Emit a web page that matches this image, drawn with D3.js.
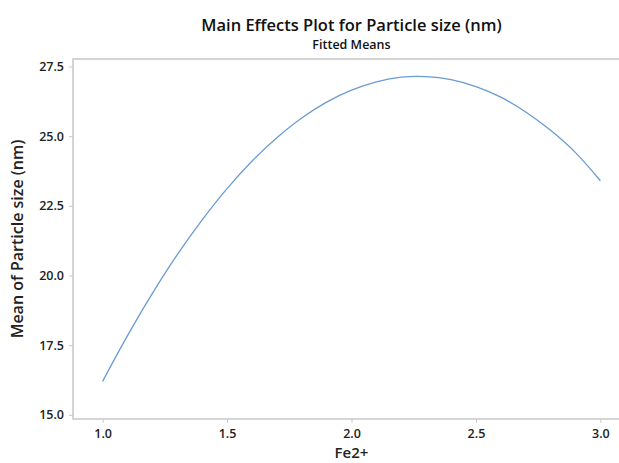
<!DOCTYPE html>
<html>
<head>
<meta charset="utf-8">
<script src="https://cdn.jsdelivr.net/npm/d3@7"></script>
<style>
  body { margin: 0; background: #fff; }
  svg { display: block; font-family: "Open Sans", "Noto Sans", sans-serif; }
</style>
</head>
<body>
<svg id="chart"></svg>
<script>
// Fitted means
const fe2Levels = [1.0, 1.1, 1.2, 1.3, 1.4, 1.5, 1.6, 1.7, 1.8, 1.9, 2.0,
                   2.1, 2.2, 2.3, 2.4, 2.5, 2.6, 2.7, 2.8, 2.9, 3.0];
const meanSize = [16.2, 17.84, 19.36, 20.75, 22.0, 23.12, 24.1, 24.94, 25.65, 26.22, 26.65,
                  26.95, 27.12, 27.14, 27.03, 26.78, 26.4, 25.87, 25.21, 24.41, 23.4];
const xTicks = [1.0, 1.5, 2.0, 2.5, 3.0];
const yTicks = [15.0, 17.5, 20.0, 22.5, 25.0, 27.5];

const width = 619;
const height = 463;
const margin = { top: 59, right: -11, bottom: 44, left: 73 };
const innerW = width - margin.left - margin.right;
const innerH = height - margin.top - margin.bottom;

const svg = d3.select('#chart')
    .attr('width', width)
    .attr('height', height);

const g = svg.append('g')
    .attr('transform', `translate(${margin.left}, ${margin.top})`);

const x = d3.scaleLinear()
    .domain([0.881, 3.119])
    .range([0, innerW]);

const y = d3.scaleLinear()
    .domain([14.85, 27.77])
    .range([innerH, 0]);

// plot frame
g.append('rect')
    .attr('x', 0)
    .attr('y', 0)
    .attr('width', innerW)
    .attr('height', innerH)
    .attr('fill', 'none')
    .attr('stroke', '#c8c8c8')
    .attr('stroke-width', 1.5);

const xAxis = g.append('g')
    .attr('transform', `translate(0, ${innerH})`)
    .call(d3.axisBottom(x).tickValues(xTicks).tickFormat(d3.format('.1f')).tickSize(4).tickPadding(6));

const yAxis = g.append('g')
    .call(d3.axisLeft(y).tickValues(yTicks).tickFormat(d3.format('.1f')).tickSize(4).tickPadding(5));

[xAxis, yAxis].forEach(ax => {
  ax.select('.domain').remove();
  ax.selectAll('line').attr('stroke', '#c8c8c8');
  ax.selectAll('text')
      .attr('fill', '#222')
      .attr('font-size', '12.5px')
      .attr('font-weight', 600)
      .attr('font-family', '"Open Sans", sans-serif');
});

const line = d3.line()
    .x((d, i) => x(fe2Levels[i]))
    .y(d => y(d))
    .curve(d3.curveCatmullRom);

g.append('path')
    .datum(meanSize)
    .attr('d', line)
    .attr('fill', 'none')
    .attr('stroke', '#6a9bd1')
    .attr('stroke-width', 1.3);

// titles
const cx = margin.left + innerW / 2;
svg.append('text')
    .attr('x', cx)
    .attr('y', 31)
    .attr('text-anchor', 'middle')
    .attr('font-size', '16.5px')
    .attr('font-weight', 600)
    .attr('fill', '#111')
    .text('Main Effects Plot for Particle size (nm)');

svg.append('text')
    .attr('x', cx)
    .attr('y', 49)
    .attr('text-anchor', 'middle')
    .attr('font-size', '12.5px')
    .attr('font-weight', 600)
    .attr('fill', '#111')
    .text('Fitted Means');

svg.append('text')
    .attr('x', x(2.0) + margin.left)
    .attr('y', 458)
    .attr('text-anchor', 'middle')
    .attr('font-size', '15px')
    .attr('font-weight', 600)
    .attr('fill', '#222')
    .text('Fe2+');

svg.append('text')
    .attr('transform', `translate(23, ${margin.top + innerH / 2}) rotate(-90)`)
    .attr('text-anchor', 'middle')
    .attr('font-size', '16px')
    .attr('font-weight', 600)
    .attr('fill', '#222')
    .text('Mean of Particle size (nm)');
</script>
</body>
</html>
